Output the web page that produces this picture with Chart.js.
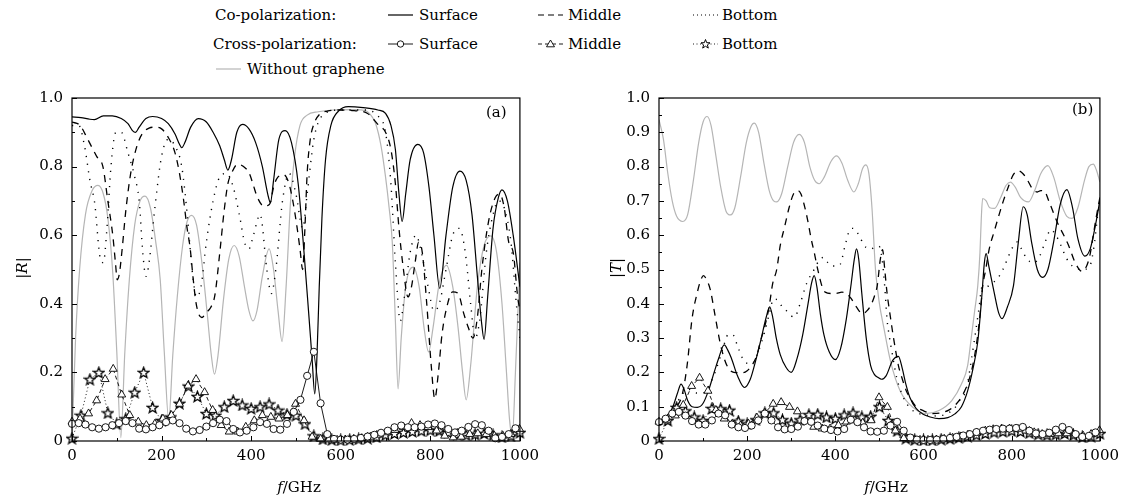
<!DOCTYPE html>
<html><head><meta charset="utf-8">
<script src="https://cdn.jsdelivr.net/npm/chart.js@4.4.0/dist/chart.umd.min.js"></script>
<style>
body{margin:0;width:1140px;height:502px;background:#fff;position:relative;overflow:hidden;font-family:"DejaVu Serif",serif;font-size:15px;color:#000}
canvas{position:absolute}
.t{position:absolute;white-space:nowrap;line-height:16px;height:16px}
svg{position:absolute;overflow:visible}
.rot{position:absolute;width:40px;text-align:center;transform:rotate(-90deg);line-height:16px;white-space:nowrap}
</style></head><body>
<canvas id="cR" width="545" height="422" style="left:0;top:80px"></canvas>
<canvas id="cT" width="550" height="422" style="left:575px;top:80px"></canvas>

<div class="t" style="left:215px;top:7px">Co-polarization:</div>
<svg width="26" height="12" style="left:388px;top:9px"><line x1="0" y1="6" x2="25" y2="6" stroke="#000" stroke-width="1.2"/></svg>
<div class="t" style="left:419px;top:7px">Surface</div>
<svg width="26" height="12" style="left:538px;top:9px"><line x1="0" y1="6" x2="25" y2="6" stroke="#000" stroke-width="1.2" stroke-dasharray="6,4"/></svg>
<div class="t" style="left:568px;top:7px">Middle</div>
<svg width="26" height="12" style="left:693px;top:9px"><line x1="0" y1="6" x2="25" y2="6" stroke="#000" stroke-width="1.2" stroke-dasharray="1,3"/></svg>
<div class="t" style="left:722px;top:7px">Bottom</div>

<div class="t" style="left:213px;top:36px">Cross-polarization:</div>
<svg width="26" height="12" style="left:388px;top:38px"><line x1="0" y1="6" x2="25" y2="6" stroke="#000" stroke-width="0.9"/><circle cx="12.5" cy="6" r="3.2" fill="#fff" stroke="#000" stroke-width="0.9"/></svg>
<div class="t" style="left:419px;top:36px">Surface</div>
<svg width="26" height="12" style="left:538px;top:38px"><line x1="0" y1="6" x2="25" y2="6" stroke="#000" stroke-width="0.9" stroke-dasharray="4,3"/><polygon points="12.5,2 16.5,8.8 8.5,8.8" fill="#fff" stroke="#000" stroke-width="0.9"/></svg>
<div class="t" style="left:568px;top:36px">Middle</div>
<svg width="26" height="12" style="left:693px;top:38px"><line x1="0" y1="6" x2="25" y2="6" stroke="#000" stroke-width="0.9" stroke-dasharray="1,2.5"/><polygon points="12.5,1.5 13.7,4.7 17,4.8 14.4,6.9 15.3,10.1 12.5,8.2 9.7,10.1 10.6,6.9 8,4.8 11.3,4.7" fill="#fff" stroke="#000" stroke-width="1"/></svg>
<div class="t" style="left:722px;top:36px">Bottom</div>

<svg width="26" height="12" style="left:216px;top:63px"><line x1="0" y1="6" x2="25" y2="6" stroke="#b5b5b5" stroke-width="1.2"/></svg>
<div class="t" style="left:247px;top:61px">Without graphene</div>

<div class="t" style="left:486px;top:104px">(a)</div>
<div class="t" style="left:1072px;top:101px">(b)</div>
<div class="t" style="left:249px;top:479px;width:100px;text-align:center"><i>f</i>/GHz</div>
<div class="t" style="left:836px;top:479px;width:100px;text-align:center"><i>f</i>/GHz</div>
<div class="rot" style="left:2px;top:260px">|<i>R</i>|</div>
<div class="rot" style="left:596px;top:260px">|<i>T</i>|</div>

<script>
// ---------- Panel (a): |R| ----------
const fCoSurfR = [0,20,40,50,70,90,110,125,135,142,150,165,180,200,215,230,240,245,252,265,282,300,315,330,340,348,356,368,381,395,410,425,437,443,450,462,476,490,505,518,528,536,542,547,552,558,566,578,595,617,650,683,700,712,722,730,737,745,755,772,785,797,808,821,835,850,866,880,893,905,914,920,928,940,952,960,972,985,1000];
const coSurfR = [0.945,0.943,0.938,0.937,0.948,0.948,0.94,0.925,0.905,0.9,0.915,0.94,0.946,0.94,0.925,0.895,0.865,0.855,0.87,0.915,0.94,0.93,0.9,0.86,0.82,0.79,0.82,0.9,0.923,0.91,0.87,0.8,0.72,0.695,0.76,0.88,0.905,0.87,0.75,0.55,0.38,0.24,0.137,0.25,0.45,0.65,0.82,0.92,0.962,0.975,0.972,0.965,0.955,0.92,0.85,0.72,0.64,0.72,0.82,0.865,0.84,0.74,0.6,0.445,0.6,0.74,0.787,0.76,0.66,0.48,0.35,0.296,0.42,0.62,0.71,0.732,0.7,0.6,0.45];

const fCoMidR = [0,18,35,55,69,80,91,97,101,106,112,120,131,145,157,172,186,200,215,230,240,249,257,264,270,276,283,290,300,310,319,330,340,348,356,370,383,396,405,414,429,436,443,450,460,473,484,493,502,509,515,520,525,532,540,553,570,600,630,660,685,700,712,722,730,740,750,758,766,774,782,792,802,810,818,826,835,850,862,875,885,895,905,915,930,945,955,965,975,985,995,1000];
const coMidR = [0.93,0.92,0.88,0.83,0.8,0.7,0.6,0.52,0.47,0.49,0.56,0.67,0.78,0.86,0.896,0.912,0.915,0.91,0.885,0.84,0.78,0.704,0.62,0.56,0.48,0.41,0.37,0.36,0.375,0.39,0.425,0.55,0.675,0.75,0.78,0.807,0.8,0.78,0.745,0.71,0.684,0.686,0.695,0.74,0.77,0.776,0.752,0.7,0.627,0.56,0.5,0.62,0.78,0.88,0.924,0.953,0.962,0.965,0.963,0.955,0.92,0.9,0.85,0.75,0.62,0.5,0.42,0.45,0.52,0.58,0.55,0.4,0.22,0.123,0.2,0.31,0.38,0.435,0.43,0.37,0.33,0.3,0.36,0.5,0.64,0.71,0.72,0.68,0.58,0.55,0.42,0.38];

const fCoBotR = [0,15,28,40,51,62,70,78,87,98,110,125,140,150,158,165,172,185,200,215,230,245,258,268,278,288,300,315,330,345,360,375,385,395,405,420,435,445,455,470,485,500,515,525,540,560,600,650,685,700,712,722,733,742,755,768,780,795,808,820,835,850,865,878,890,900,910,925,940,952,965,980,992,1000];
const coBotR = [0.92,0.92,0.86,0.76,0.69,0.54,0.52,0.62,0.8,0.9,0.9,0.84,0.77,0.7,0.55,0.48,0.52,0.68,0.83,0.88,0.86,0.8,0.65,0.5,0.42,0.45,0.58,0.7,0.77,0.78,0.74,0.65,0.58,0.56,0.6,0.66,0.5,0.43,0.5,0.7,0.78,0.72,0.62,0.72,0.88,0.95,0.965,0.965,0.945,0.9,0.75,0.52,0.35,0.42,0.55,0.6,0.55,0.45,0.38,0.4,0.5,0.6,0.62,0.55,0.4,0.3,0.35,0.55,0.66,0.7,0.68,0.58,0.4,0.3];

const fGrayR = [0,8,17,30,45,58,70,80,91,100,109,118,128,140,152,163,175,187,197,206,216,225,235,247,257,267,278,290,302,311,318,326,338,350,362,373,385,395,404,413,425,440,450,460,469,478,488,497,509,525,550,583,630,657,670,678,690,700,708,715,722,728,735,745,762,775,786,796,806,820,836,850,862,872,880,890,905,920,935,948,960,970,977,983,990,1000];
const grayR = [0,0.3,0.5,0.66,0.73,0.745,0.72,0.65,0.49,0.26,0.01,0.26,0.47,0.63,0.7,0.714,0.68,0.58,0.47,0.26,0.06,0.25,0.42,0.57,0.64,0.658,0.63,0.52,0.37,0.25,0.195,0.25,0.41,0.53,0.57,0.54,0.45,0.38,0.35,0.38,0.48,0.56,0.5,0.38,0.29,0.45,0.7,0.83,0.92,0.95,0.96,0.965,0.966,0.962,0.945,0.925,0.86,0.77,0.68,0.58,0.35,0.152,0.3,0.45,0.507,0.45,0.33,0.26,0.33,0.46,0.512,0.45,0.33,0.2,0.12,0.22,0.45,0.57,0.598,0.55,0.4,0.2,0.06,0.01,0.2,0.52];

// Cross-polarization marker sampling (GHz)
const fCirc = [0,15,30,45,60,75,90,105,120,135,150,165,180,195,210,225,240,255,270,285,300,315,330,345,360,375,390,405,420,435,450,465,480,495,510,525,540,555,570,585,600,615,630,645,660,675,690,705,720,735,750,765,780,795,810,825,840,855,870,885,900,915,930,945,960,975,990];
const fTri = [0,18,37,55,74,92,111,129,148,166,185,203,222,240,259,277,296,314,333,351,370,388,407,425,444,462,481,499,518,536,555,573,592,610,629,647,666,684,703,721,740,758,777,795,814,832,851,869,888,906,925,943,962,980,999];
const fStar = [0,20,40,60,80,100,120,140,160,180,200,220,240,260,280,300,320,340,360,380,400,420,440,460,480,500,520,540,560,580,600,620,640,660,680,700,720,740,760,780,800,820,840,860,880,900,920,940,960,980,1000];

const crossSurfR = [0.05,0.052,0.048,0.04,0.036,0.04,0.046,0.052,0.058,0.052,0.036,0.034,0.04,0.046,0.055,0.06,0.052,0.036,0.028,0.032,0.042,0.052,0.062,0.058,0.035,0.025,0.03,0.04,0.055,0.05,0.035,0.033,0.05,0.085,0.12,0.19,0.26,0.11,0.02,0.006,0.004,0.004,0.006,0.009,0.013,0.018,0.024,0.03,0.04,0.045,0.04,0.04,0.042,0.048,0.051,0.046,0.035,0.025,0.03,0.041,0.049,0.046,0.03,0.008,0.012,0.02,0.037];
const crossMidR = [0.056,0.065,0.08,0.118,0.18,0.21,0.135,0.075,0.056,0.046,0.05,0.065,0.075,0.108,0.161,0.18,0.142,0.09,0.046,0.027,0.027,0.041,0.06,0.075,0.07,0.065,0.075,0.108,0.06,0.012,0.006,0.004,0.003,0.004,0.006,0.008,0.012,0.018,0.025,0.032,0.04,0.052,0.046,0.04,0.03,0.015,0.01,0.012,0.02,0.022,0.02,0.015,0.015,0.02,0.035];
const crossBotR = [0.008,0.075,0.18,0.2,0.082,0.05,0.065,0.142,0.2,0.098,0.06,0.07,0.11,0.16,0.13,0.08,0.075,0.1,0.118,0.105,0.095,0.1,0.108,0.09,0.078,0.075,0.05,0.015,0.006,0.004,0.003,0.004,0.006,0.008,0.012,0.018,0.022,0.025,0.028,0.03,0.032,0.03,0.025,0.02,0.018,0.02,0.022,0.018,0.012,0.015,0.025];

// ---------- Panel (b): |T| ----------
const fCoSurfT = [0,15,31,42,50,57,65,75,87,100,112,125,135,148,156,164,178,194,207,219,232,243,251,258,266,275,288,300,313,326,338,346,352,358,366,374,386,400,412,425,436,443,448,453,460,470,480,488,497,505,515,530,543,552,560,569,583,598,615,635,655,671,686,700,712,723,732,738,742,748,760,770,778,790,804,815,826,835,845,858,870,882,895,910,925,938,950,966,978,990,1000];
const coSurfT = [0.056,0.07,0.098,0.14,0.166,0.15,0.118,0.1,0.098,0.11,0.146,0.2,0.24,0.28,0.265,0.242,0.19,0.156,0.18,0.233,0.3,0.36,0.391,0.36,0.3,0.252,0.215,0.2,0.24,0.31,0.4,0.46,0.482,0.45,0.37,0.31,0.26,0.237,0.27,0.357,0.46,0.53,0.56,0.53,0.43,0.3,0.22,0.195,0.185,0.18,0.19,0.235,0.247,0.21,0.165,0.127,0.095,0.079,0.07,0.065,0.068,0.079,0.1,0.146,0.21,0.29,0.42,0.52,0.546,0.51,0.434,0.375,0.357,0.39,0.453,0.58,0.683,0.66,0.58,0.5,0.477,0.5,0.58,0.69,0.733,0.68,0.59,0.539,0.56,0.63,0.702];

const fCoMidT = [0,20,40,53,64,75,87,95,101,108,116,127,138,148,157,170,190,200,212,222,230,240,249,258,267,275,285,295,305,315,322,330,337,345,352,360,370,377,390,400,415,425,436,448,462,472,480,488,495,502,507,512,517,525,532,543,552,561,572,583,600,620,640,657,672,686,698,708,716,723,729,734,741,749,760,770,781,792,803,814,825,836,847,858,866,873,884,895,906,918,929,944,959,968,977,985,992,1000];
const coMidT = [0.05,0.07,0.1,0.137,0.223,0.357,0.434,0.47,0.482,0.47,0.443,0.367,0.29,0.24,0.213,0.2,0.199,0.205,0.223,0.25,0.29,0.335,0.386,0.46,0.5,0.57,0.625,0.68,0.72,0.73,0.72,0.685,0.645,0.59,0.55,0.5,0.45,0.434,0.43,0.43,0.434,0.43,0.415,0.39,0.371,0.38,0.395,0.42,0.453,0.53,0.558,0.5,0.434,0.36,0.3,0.22,0.18,0.146,0.12,0.1,0.088,0.08,0.082,0.09,0.105,0.128,0.16,0.2,0.25,0.31,0.38,0.45,0.5,0.56,0.61,0.654,0.7,0.74,0.775,0.788,0.78,0.76,0.735,0.726,0.73,0.73,0.7,0.664,0.63,0.6,0.57,0.52,0.495,0.505,0.54,0.6,0.655,0.71];

const fCoBotT = [0,20,40,55,70,85,100,115,130,145,157,167,180,195,210,225,240,250,260,270,280,289,300,307,320,335,352,365,374,383,392,402,411,422,433,440,448,455,463,470,480,490,499,506,512,517,523,528,539,554,570,590,610,630,650,670,683,693,700,708,716,725,733,743,755,767,780,790,800,812,822,835,848,860,873,889,900,910,918,930,945,960,977,988,995,1000];
const coBotT = [0.05,0.075,0.11,0.14,0.15,0.14,0.14,0.165,0.21,0.27,0.31,0.31,0.27,0.23,0.225,0.26,0.32,0.37,0.414,0.41,0.39,0.38,0.365,0.361,0.4,0.46,0.5,0.53,0.535,0.52,0.51,0.51,0.515,0.57,0.616,0.62,0.61,0.597,0.575,0.564,0.56,0.565,0.568,0.53,0.45,0.357,0.3,0.262,0.185,0.128,0.095,0.08,0.075,0.073,0.078,0.095,0.12,0.137,0.17,0.233,0.3,0.38,0.45,0.45,0.46,0.472,0.5,0.53,0.56,0.58,0.56,0.53,0.52,0.53,0.57,0.616,0.6,0.575,0.55,0.52,0.505,0.5,0.51,0.58,0.66,0.7];

const fGrayT = [0,10,20,30,40,54,65,78,90,100,109,118,128,140,152,162,172,185,198,208,216,226,238,250,260,267,278,292,305,318,330,342,353,363,375,390,403,415,428,442,452,462,469,476,483,491,500,510,525,547,576,605,635,664,686,700,709,716,723,728,731,734,742,750,761,775,787,797,808,820,838,852,866,882,895,910,925,937,950,965,975,985,992,1000];
const grayT = [0.937,0.88,0.78,0.7,0.655,0.64,0.66,0.76,0.87,0.93,0.946,0.92,0.84,0.74,0.67,0.659,0.68,0.77,0.87,0.915,0.927,0.9,0.81,0.73,0.7,0.697,0.72,0.8,0.87,0.894,0.87,0.8,0.76,0.75,0.77,0.815,0.831,0.81,0.76,0.726,0.75,0.795,0.805,0.78,0.68,0.5,0.4,0.33,0.233,0.146,0.098,0.08,0.089,0.118,0.166,0.22,0.309,0.38,0.453,0.55,0.65,0.707,0.7,0.68,0.678,0.71,0.745,0.755,0.74,0.71,0.697,0.73,0.78,0.803,0.77,0.7,0.655,0.649,0.68,0.76,0.8,0.807,0.79,0.755];

const crossSurfT = [0.055,0.065,0.08,0.085,0.074,0.058,0.048,0.048,0.06,0.08,0.075,0.048,0.04,0.038,0.045,0.06,0.08,0.06,0.04,0.034,0.035,0.042,0.058,0.056,0.045,0.036,0.032,0.028,0.035,0.062,0.055,0.04,0.028,0.027,0.03,0.045,0.056,0.03,0.01,0.004,0.003,0.003,0.004,0.006,0.009,0.012,0.016,0.02,0.026,0.03,0.033,0.035,0.036,0.036,0.038,0.041,0.03,0.022,0.02,0.024,0.033,0.041,0.032,0.02,0.012,0.015,0.025];
const crossMidT = [0.056,0.06,0.074,0.105,0.16,0.184,0.146,0.09,0.065,0.05,0.045,0.05,0.068,0.082,0.108,0.113,0.099,0.086,0.06,0.041,0.036,0.036,0.046,0.056,0.06,0.053,0.06,0.127,0.099,0.03,0.008,0.004,0.003,0.003,0.004,0.006,0.009,0.013,0.018,0.024,0.03,0.034,0.036,0.036,0.035,0.03,0.025,0.02,0.02,0.022,0.022,0.018,0.015,0.02,0.031];
const crossBotT = [0.007,0.06,0.098,0.088,0.07,0.06,0.095,0.094,0.09,0.058,0.05,0.062,0.082,0.082,0.062,0.052,0.062,0.077,0.078,0.07,0.066,0.076,0.082,0.07,0.072,0.1,0.06,0.03,0.008,0.004,0.003,0.003,0.005,0.007,0.01,0.014,0.018,0.022,0.026,0.028,0.03,0.028,0.024,0.02,0.018,0.02,0.022,0.018,0.012,0.014,0.022];

// ---------- helpers ----------
const FONT = '"DejaVu Serif", serif';
function pts(xs, ys){ return xs.map((x,i)=>({x:x, y:ys[i]})); }
function makeStar(){
  const c=document.createElement('canvas'); c.width=13; c.height=13;
  const g=c.getContext('2d'); g.beginPath();
  for(let i=0;i<10;i++){ const r=i%2?2.4:5.6; const a=-Math.PI/2+i*Math.PI/5; g.lineTo(6.5+r*Math.cos(a),7+r*Math.sin(a)); }
  g.closePath(); g.fillStyle='#fff'; g.fill(); g.strokeStyle='#000'; g.lineWidth=1.3; g.stroke();
  return c;
}
const STAR = makeStar();

const frameTicks = {
  id:'frameTicks',
  afterDatasetsDraw(chart, args, o){
    const {ctx, chartArea:a, scales:{x, y}} = chart;
    ctx.save();
    ctx.strokeStyle='#000'; ctx.lineWidth=1.2;
    ctx.strokeRect(a.left, a.top, a.right-a.left, a.bottom-a.top);
    ctx.beginPath(); ctx.lineWidth=1;
    const nx = Math.round((x.max-x.min)/o.xMinor);
    for(let i=0;i<=nx;i++){ const v=x.min+i*o.xMinor; const px=Math.round(x.getPixelForValue(v))+0.5;
      const L=(Math.abs(v/o.xMajor-Math.round(v/o.xMajor))<1e-6)?5:3; ctx.moveTo(px,a.bottom); ctx.lineTo(px,a.bottom-L); }
    const ny = Math.round((y.max-y.min)/o.yMinor);
    for(let i=0;i<=ny;i++){ const v=y.min+i*o.yMinor; const py=Math.round(y.getPixelForValue(v))+0.5;
      const L=(Math.abs(v/o.yMajor-Math.round(v/o.yMajor))<1e-6)?5:3; ctx.moveTo(a.left,py); ctx.lineTo(a.left+L,py); }
    ctx.stroke(); ctx.restore();
  }
};

function datasets(fs){
  return [
    {data:pts(fCirc,fs.cs), borderColor:'#000', borderWidth:0.9, pointStyle:'circle', pointRadius:3.6, pointBackgroundColor:'#fff', pointBorderColor:'#000', pointBorderWidth:0.9, tension:0, clip:false},
    {data:pts(fTri,fs.cm), borderColor:'#000', borderWidth:0.9, borderDash:[4,3], pointStyle:'triangle', pointRadius:4.6, pointBackgroundColor:'#fff', pointBorderColor:'#000', pointBorderWidth:0.9, tension:0, clip:false},
    {data:pts(fStar,fs.cb), borderColor:'#000', borderWidth:0.9, borderDash:[1,2.5], pointStyle:STAR, pointRadius:5, tension:0, clip:false},
    {data:pts(fs.fSurf,fs.surf), borderColor:'#000', borderWidth:1.2, pointRadius:0, cubicInterpolationMode:'monotone'},
    {data:pts(fs.fMid,fs.mid), borderColor:'#000', borderWidth:1.3, borderDash:[7,6], pointRadius:0, cubicInterpolationMode:'monotone'},
    {data:pts(fs.fBot,fs.bot), borderColor:'#000', borderWidth:1.4, borderDash:[1.2,6.5], pointRadius:0, cubicInterpolationMode:'monotone'},
    {data:pts(fs.fGray,fs.gray), borderColor:'#b5b5b5', borderWidth:1.2, pointRadius:0, cubicInterpolationMode:'monotone'}
  ];
}

function makeChart(id, fs, pad, yw, ystep, yminor){
  return new Chart(document.getElementById(id), {
    type:'line',
    data:{datasets:datasets(fs)},
    options:{
      responsive:false, animation:false, devicePixelRatio:1, events:[],
      layout:{padding:pad},
      plugins:{legend:{display:false}, tooltip:{enabled:false}, frameTicks:{xMinor:100, xMajor:200, yMinor:yminor, yMajor:ystep}},
      scales:{
        x:{type:'linear', min:0, max:1000, grid:{display:false, drawTicks:false}, border:{display:false},
           ticks:{stepSize:200, color:'#000', padding:6, maxRotation:0, font:{family:FONT, size:15}, callback:v=>String(v)},
           afterFit:s=>{s.height=61;}},
        y:{type:'linear', min:0, max:1, grid:{display:false, drawTicks:false}, border:{display:false},
           ticks:{stepSize:ystep, color:'#000', padding:9, font:{family:FONT, size:15}, callback:v=>Math.abs(v)<1e-9?'0':v.toFixed(1)},
           afterFit:s=>{s.width=yw;}}
      }
    },
    plugins:[frameTicks]
  });
}

makeChart('cR', {cs:crossSurfR, cm:crossMidR, cb:crossBotR, fSurf:fCoSurfR, surf:coSurfR, fMid:fCoMidR, mid:coMidR, fBot:fCoBotR, bot:coBotR, fGray:fGrayR, gray:grayR},
  {top:14, right:19, left:0, bottom:0}, 72, 0.2, 0.1);
makeChart('cT', {cs:crossSurfT, cm:crossMidT, cb:crossBotT, fSurf:fCoSurfT, surf:coSurfT, fMid:fCoMidT, mid:coMidT, fBot:fCoBotT, bot:coBotT, fGray:fGrayT, gray:grayT},
  {top:13, right:13, left:0, bottom:0}, 84, 0.1, 0.05);
</script>
</body></html>
